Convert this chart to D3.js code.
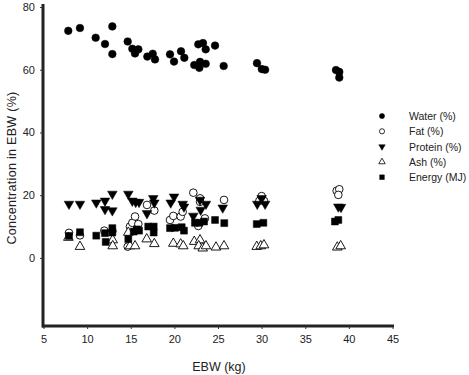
<!DOCTYPE html>
<html>
<head>
<meta charset="utf-8">
<script src="https://cdn.jsdelivr.net/npm/d3@7"></script>
<style>
body { margin: 0; background: #fff; }
text { font-family: "Liberation Sans", Arial, sans-serif; fill: #222; }
</style>
</head>
<body>
<svg id="chart"></svg>
<script>
let width = 469;
let height = 375;

// EBW (kg) and concentration
let waterX = [7.84, 9.18, 10.98, 12.05, 12.89, 12.89, 14.65, 15.18, 15.87, 15.49, 16.9, 17.52, 17.78, 19.5, 19.96, 20.76, 21.14, 22.28, 22.74, 23.28, 23.59, 22.94, 22.86, 23.59, 24.66, 25.65, 29.47, 30.02, 30.4, 38.52, 38.9, 38.9];
let waterY = [72.4, 73.3, 70.2, 68.2, 73.8, 65.0, 69.0, 66.7, 66.5, 65.2, 64.2, 65.1, 63.3, 64.9, 62.6, 65.9, 63.8, 61.5, 68.1, 68.5, 66.5, 62.5, 60.6, 61.9, 67.7, 61.2, 62.1, 60.2, 60.0, 59.9, 59.3, 57.5];

let fatX = [7.92, 9.18, 11.97, 12.89, 14.65, 14.91, 15.18, 15.49, 15.87, 16.86, 17.7, 19.5, 19.88, 20.72, 20.95, 22.17, 22.94, 22.94, 22.74, 23.5, 25.69, 29.74, 30.27, 30.0, 38.6, 38.9, 38.79];
let fatY = [8.0, 7.2, 8.7, 8.5, 3.6, 10.0, 11.2, 13.2, 10.8, 16.9, 15.1, 12.1, 13.4, 13.2, 14.7, 20.8, 19.0, 17.9, 10.2, 12.6, 18.5, 18.2, 18.2, 19.7, 21.4, 21.9, 20.1];

let proteinX = [7.92, 9.18, 11.05, 12.05, 12.89, 12.05, 12.89, 14.72, 15.18, 15.57, 15.95, 16.86, 17.58, 17.7, 19.58, 19.96, 20.95, 21.1, 22.17, 22.94, 23.02, 23.62, 25.54, 29.5, 30.0, 30.4, 38.79, 39.1];
let proteinY = [17.2, 17.2, 17.6, 18.2, 20.4, 15.5, 15.1, 20.4, 18.2, 17.8, 17.8, 14.2, 19.0, 17.6, 17.6, 19.5, 17.2, 16.3, 13.4, 18.5, 15.3, 17.2, 16.0, 17.2, 19.0, 17.2, 16.3, 16.2];

let ashX = [7.85, 9.18, 12.93, 12.93, 14.72, 14.91, 15.49, 16.83, 17.7, 19.88, 20.72, 21.02, 22.28, 22.94, 22.79, 23.25, 23.62, 24.77, 25.69, 29.44, 29.9, 30.27, 38.67, 39.06];
let ashY = [6.5, 3.6, 5.7, 3.8, 8.1, 3.8, 3.8, 6.0, 4.5, 4.6, 4.4, 3.8, 5.2, 5.7, 3.8, 3.1, 3.8, 3.4, 3.8, 3.6, 3.8, 4.1, 3.4, 3.8];

let energyX = [7.92, 9.18, 11.05, 12.05, 12.13, 12.89, 12.89, 14.72, 15.34, 15.72, 15.95, 17.0, 17.63, 17.63, 19.5, 20.07, 20.84, 21.1, 22.36, 22.86, 23.4, 24.66, 25.72, 29.44, 30.2, 38.4, 38.79];
let energyY = [7.0, 8.2, 7.1, 7.9, 5.1, 9.5, 8.1, 6.0, 8.4, 9.1, 8.7, 10.0, 10.0, 8.1, 9.5, 9.6, 9.8, 8.7, 11.2, 11.2, 11.6, 12.1, 11.1, 10.8, 11.2, 11.6, 12.1];

let xTicks = [5, 10, 15, 20, 25, 30, 35, 40, 45];
let yTicks = [0, 20, 40, 60, 80];

let series = [
    {name: 'Water (%)', xs: waterX, ys: waterY, shape: 'circle', fill: true},
    {name: 'Fat (%)', xs: fatX, ys: fatY, shape: 'circle', fill: false},
    {name: 'Protein (%)', xs: proteinX, ys: proteinY, shape: 'down', fill: true},
    {name: 'Ash (%)', xs: ashX, ys: ashY, shape: 'up', fill: false},
    {name: 'Energy (MJ)', xs: energyX, ys: energyY, shape: 'square', fill: true}
];

function symbolPath(shape, k) {
    if (shape == 'circle') return d3.symbol(d3.symbolCircle, 46 * k)();
    if (shape == 'square') return d3.symbol(d3.symbolSquare, 48 * k)();
    return d3.symbol(d3.symbolTriangle, 40 * k)();
}

function draw_chart() {
    let svg = d3.select('#chart')
        .attr('width', width)
        .attr('height', height);

    let x = d3.scaleLinear().domain([5, 45]).range([43.5, 392.5]);
    let y = d3.scaleLinear().domain([-21.7, 80]).range([326, 7]);

    // axes
    let xAxis = svg.append('g')
        .attr('transform', 'translate(0,326)')
        .call(d3.axisBottom(x).tickValues(xTicks).tickSizeInner(3).tickSizeOuter(0).tickPadding(6));
    let yAxis = svg.append('g')
        .attr('transform', 'translate(43,0)')
        .call(d3.axisLeft(y).tickValues(yTicks).tickSizeInner(3).tickSizeOuter(0).tickPadding(5));

    xAxis.select('.domain').attr('stroke', '#222').attr('stroke-width', 3)
        .attr('d', 'M42,0H394');
    yAxis.select('.domain').attr('stroke', '#222').attr('stroke-width', 3)
        .attr('d', 'M0,4V327.5');
    svg.selectAll('.tick line').attr('stroke', '#333');
    svg.selectAll('.tick text').style('font-size', '11px').attr('fill', '#222');

    svg.append('text')
        .attr('transform', 'translate(16,168) rotate(-90)')
        .attr('text-anchor', 'middle')
        .style('font-size', '12.5px')
        .style('letter-spacing', '0.3px')
        .text('Concentration in EBW (%)');
    svg.append('text')
        .attr('x', 219)
        .attr('y', 371)
        .attr('text-anchor', 'middle')
        .style('font-size', '12.5px')
        .text('EBW (kg)');

    // points
    series.forEach(function (s) {
        let pts = s.xs.map((v, i) => ({x: v, y: s.ys[i]}));
        svg.append('g')
            .selectAll('path')
            .data(pts)
            .join('path')
            .attr('d', symbolPath(s.shape, 1))
            .attr('transform', d => `translate(${x(d.x)},${y(d.y)})` + (s.shape == 'down' ? ' rotate(180)' : ''))
            .attr('fill', s.fill ? '#000' : '#fff')
            .attr('stroke', '#000')
            .attr('stroke-width', s.fill ? 0.5 : 0.9);
    });

    // legend
    let legend = svg.append('g').attr('class', 'legend');
    legend.selectAll('g')
        .data(series)
        .join('g')
        .each(function (s, i) {
            let g = d3.select(this);
            let yy = 116 + i * 15.3;
            g.append('path')
                .attr('d', symbolPath(s.shape, 0.45))
                .attr('transform', `translate(382,${yy})` + (s.shape == 'down' ? ' rotate(180)' : ''))
                .attr('fill', s.fill ? '#000' : '#fff')
                .attr('stroke', '#000')
                .attr('stroke-width', s.fill ? 0.5 : 0.8);
            g.append('text')
                .attr('x', 409)
                .attr('y', yy + 4)
                .style('font-size', '10.5px')
                .text(s.name);
        });
}

draw_chart();
</script>
</body>
</html>
